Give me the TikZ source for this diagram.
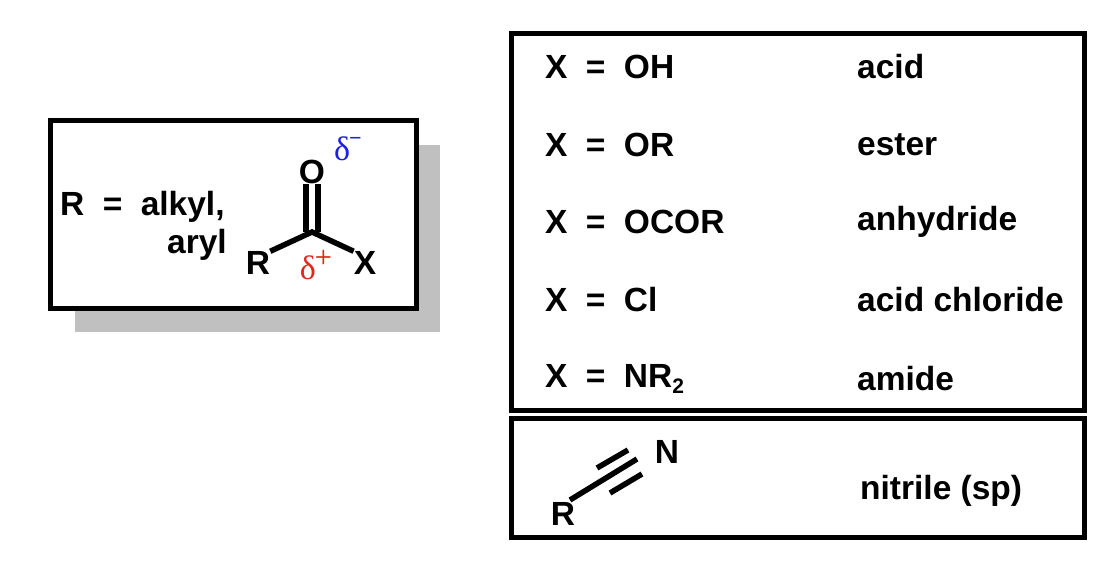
\documentclass[tikz,border=0pt]{standalone}
\usepackage{fontspec}
\setmainfont{Liberation Sans}
\newfontfamily\greekfont{Liberation Serif}
\definecolor{shadowgray}{RGB}{192,192,192}
\definecolor{dred}{RGB}{225,40,30}
\definecolor{dblue}{RGB}{30,30,235}
\newcommand{\subtwo}{\raisebox{-0.35ex}{\fontsize{21}{21}\selectfont 2}}
\newcommand{\eqsp}{\hspace{0.55em}=\hspace{0.55em}}
\tikzset{
  lbl/.style={font=\fontsize{33.5}{35}\selectfont\bfseries, inner sep=0pt},
  delta/.style={font=\fontsize{34}{34}\selectfont\greekfont, inner sep=0pt},
  frame/.style={line width=5pt},
  bond/.style={line width=5.5pt}
}
\begin{document}
\begin{tikzpicture}[x=1pt, y=-1pt]
    \useasboundingbox (0,0) rectangle (1104,562);
    % left box with shadow
    \fill [shadowgray] (75,145) rectangle (440,332);
    \draw [frame, fill=white] (50,120) rectangle (416,308);
    \node[lbl, anchor=west] (rdef) at (60,207) {R\eqsp alkyl,};
    \node[lbl, anchor=east] (aryl) at (227,245) {aryl};
    % carbonyl
    \node[lbl] (ox) at (312,172) {O};
    \coordinate (cc) at (312,232);
    \node[lbl] (rg) at (258,263) {R};
    \node[lbl] (xg) at (365,263) {X};
    \draw [bond] ([xshift=-6pt]ox.south) -- ([xshift=-6pt]cc);
    \draw [bond] ([xshift=6pt]ox.south) -- ([xshift=6pt]cc);
    \draw [bond] (rg.north east) -- (cc) -- (xg.north west);
    \node[delta, text=dred] (dplus) at (316,265) {δ\kern-1pt\raisebox{1.1ex}{\fontsize{20}{20}\selectfont\sffamily\bfseries +}};
    \node[delta, text=dblue] (dminus) at (348,149) {δ\kern-1pt\raisebox{1.0ex}{\fontsize{22}{22}\selectfont\bfseries −}};
    % table of derivatives
    \draw [frame] (511,33) rectangle (1084,410);
    \foreach \y/\x/\name in {67/OH/acid, 145/OR/ester, 222/OCOR/anhydride,
                             300/Cl/acid chloride, 379/NR\subtwo/amide} {
        \node[lbl, anchor=west] at (545,\y) {X\eqsp\x};
        \node[lbl, anchor=west] at (857,\y) {\name};
    }
    % nitrile
    \draw [frame] (511,418) rectangle (1084,537);
    \node[lbl] (rn) at (563,514) {R};
    \node[lbl] (nn) at (667,452) {N};
    \draw [bond] (570,500) -- (637,459);
    \draw [bond] (597,468) -- (628,450);
    \draw [bond] (610,493) -- (642,474);
    \node[lbl, anchor=west] (nit) at (860,491) {nitrile (sp)};
\end{tikzpicture}
\end{document}
